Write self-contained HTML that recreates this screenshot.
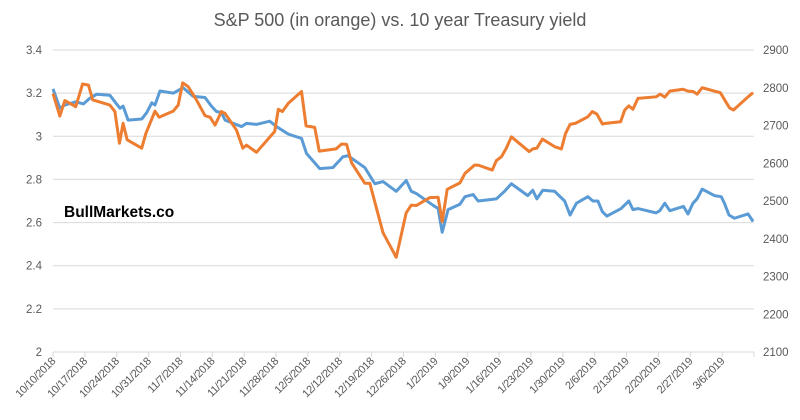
<!DOCTYPE html>
<html><head><meta charset="utf-8">
<style>
body{margin:0;background:#fff;}
svg{display:block;font-family:"Liberation Sans",Calibri,sans-serif;}
</style></head>
<body>
<svg id="chart" width="800" height="420">
<rect width="800" height="420" fill="#fff"/>
<text x="400" y="26" text-anchor="middle" font-size="18" fill="#595959">S&amp;P 500 (in orange) vs. 10 year Treasury yield</text>
<g id="grid"></g><g id="axes"></g><g id="series"></g>
<text x="64" y="217" font-size="15.5" font-weight="bold" fill="#000">BullMarkets.co</text>
</svg>
<script>
// days since 10/10/2018
const yieldDays=[0,1.5,2.6,5,6.7,8,9.6,12.5,14.7,15.4,16.5,19.5,20.6,21.7,22.4,23.5,26.4,28.6,30.8,33.4,34.8,35.9,37,37.8,41.4,42.5,44.7,47.6,49.1,51.7,54.6,55.7,58.6,61.5,63.7,64.8,68.5,70.7,72.5,75.4,77.6,78.7,79.8,83.5,84.6,85.5,86.8,89.4,90.5,92.3,93.4,97.4,99.2,100.7,104.3,105.4,106.3,107.6,110.2,112.4,113.6,115,117.5,118.6,119.7,120.7,121.7,124.8,126.5,127.4,128.5,132.5,133.3,134.4,135.5,138.5,139.5,140.6,141.5,142.6,145.3,146.8,147.5,148.5,149.7,152.7,153.8];
const yieldValues=[3.22,3.13,3.145,3.16,3.15,3.175,3.195,3.19,3.13,3.14,3.075,3.08,3.11,3.155,3.145,3.21,3.2,3.225,3.185,3.18,3.14,3.115,3.11,3.075,3.045,3.06,3.055,3.07,3.045,3.01,2.99,2.92,2.85,2.855,2.905,2.91,2.855,2.78,2.79,2.745,2.795,2.745,2.735,2.68,2.665,2.555,2.66,2.685,2.72,2.73,2.70,2.71,2.745,2.78,2.725,2.75,2.71,2.75,2.745,2.70,2.635,2.69,2.72,2.70,2.70,2.65,2.63,2.665,2.70,2.66,2.665,2.645,2.655,2.69,2.655,2.675,2.64,2.69,2.71,2.755,2.725,2.72,2.69,2.635,2.62,2.64,2.605];
const spxDays=[0,1.5,2.6,5,6.5,7.8,8.7,12.5,13.6,14.6,15.4,16.3,19.5,20.4,22.4,23.3,26.4,27.5,28.5,29.7,31.5,33.4,34.5,35.6,37,37.8,40.3,41.7,42.5,44.7,48.7,49.5,50.4,51.7,54.6,55.6,57.5,58.5,62.2,63.4,64.5,65.6,68.5,69.6,72.5,75.4,77.6,78.7,79.8,82.8,84.6,85.5,86.6,89.4,90.5,92.6,93.4,96.5,97.4,98.5,99.6,100.7,104.6,105.4,106.3,107.5,110.2,111.7,112.6,113.6,114.8,117.5,118.5,119.5,120.7,121.6,124.7,125.6,126.5,127.4,128.5,132.5,133.4,134.4,135.5,138.4,139.5,140.6,141.5,142.6,146.6,147.5,148.6,149.5,152.7,153.8];
const spxValues=[2785,2725,2766,2750,2810,2807,2768,2754,2737,2653,2706,2662,2640,2679,2738,2722,2738,2754,2813,2803,2768,2726,2722,2701,2737,2732,2688,2640,2648,2629,2684,2743,2737,2759,2790,2699,2695,2632,2638,2651,2650,2601,2547,2547,2416,2351,2469,2489,2488,2509,2510,2445,2531,2548,2573,2595,2595,2582,2607,2617,2640,2670,2631,2638,2640,2664,2644,2638,2679,2703,2706,2723,2737,2730,2704,2706,2710,2741,2752,2743,2772,2776,2783,2775,2791,2796,2791,2790,2783,2800,2787,2769,2747,2741,2776,2787];
const leftTicks=[2,2.2,2.4,2.6,2.8,3,3.2,3.4];
const leftTickLabels=["2","2.2","2.4","2.6","2.8","3","3.2","3.4"];
const rightTicks=[2100,2200,2300,2400,2500,2600,2700,2800,2900];
const xTickLabels=["10/10/2018","10/17/2018","10/24/2018","10/31/2018","11/7/2018","11/14/2018","11/21/2018","11/28/2018","12/5/2018","12/12/2018","12/19/2018","12/26/2018","1/2/2019","1/9/2019","1/16/2019","1/23/2019","1/30/2019","2/6/2019","2/13/2019","2/20/2019","2/27/2019","3/6/2019"];

const X0=53,X1=754,Y0=352,Y1=50,DAYS=154;
const xs=d=>X0+(X1-X0)*d/DAYS;
const yl=v=>Y0-(v-2)/(1.4)*(Y0-Y1);
const yr=v=>Y0-(v-2100)/800*(Y0-Y1);
const NS="http://www.w3.org/2000/svg";
function mk(tag,attrs,parent){const e=document.createElementNS(NS,tag);for(const k in attrs)e.setAttribute(k,attrs[k]);parent.appendChild(e);return e;}
const grid=document.getElementById('grid'),axes=document.getElementById('axes'),series=document.getElementById('series');
leftTicks.forEach((t,i)=>{
  const y=yl(t);
  if(i>0){const g=mk('line',{x1:X0,x2:X1,y1:y,y2:y,stroke:'#d9d9d9','stroke-width':1},grid);
  
  }
  const tx=mk('text',{x:42,y:y+4,'text-anchor':'end','font-size':11.5,fill:'#595959'},axes);tx.textContent=leftTickLabels[i];
  
  
});
rightTicks.forEach(t=>{
  const tx=mk('text',{x:763,y:yr(t)+4,'font-size':11.5,fill:'#595959'},axes);tx.textContent=t;
  
  
});
const ax=mk('line',{x1:X0,x2:X1,y1:Y0,y2:Y0,stroke:'#d9d9d9','stroke-width':1},axes);


for(let k=0;k<=22;k++){const x=xs(k*7);const t=mk('line',{x1:x,x2:x,y1:Y0,y2:Y0+5,stroke:'#d9d9d9'},axes);
  
  }
xTickLabels.forEach((l,k)=>{const x=xs(k*7)+3,y=Y0+10;
  const tx=mk('text',{x:x,y:y,'text-anchor':'end','font-size':11,'letter-spacing':'-0.4',fill:'#595959',transform:`rotate(-45 ${x} ${y})`},axes);tx.textContent=l;
  
  });
const pb=mk('polyline',{points:yieldDays.map((d,i)=>xs(d)+','+yl(yieldValues[i])).join(' '),fill:'none',stroke:'#5b9bd5','stroke-width':3,'stroke-linejoin':'round'},series);


const po=mk('polyline',{points:spxDays.map((d,i)=>xs(d)+','+yr(spxValues[i])).join(' '),fill:'none',stroke:'#ed7d31','stroke-width':3,'stroke-linejoin':'round'},series);


</script>
</body></html>
